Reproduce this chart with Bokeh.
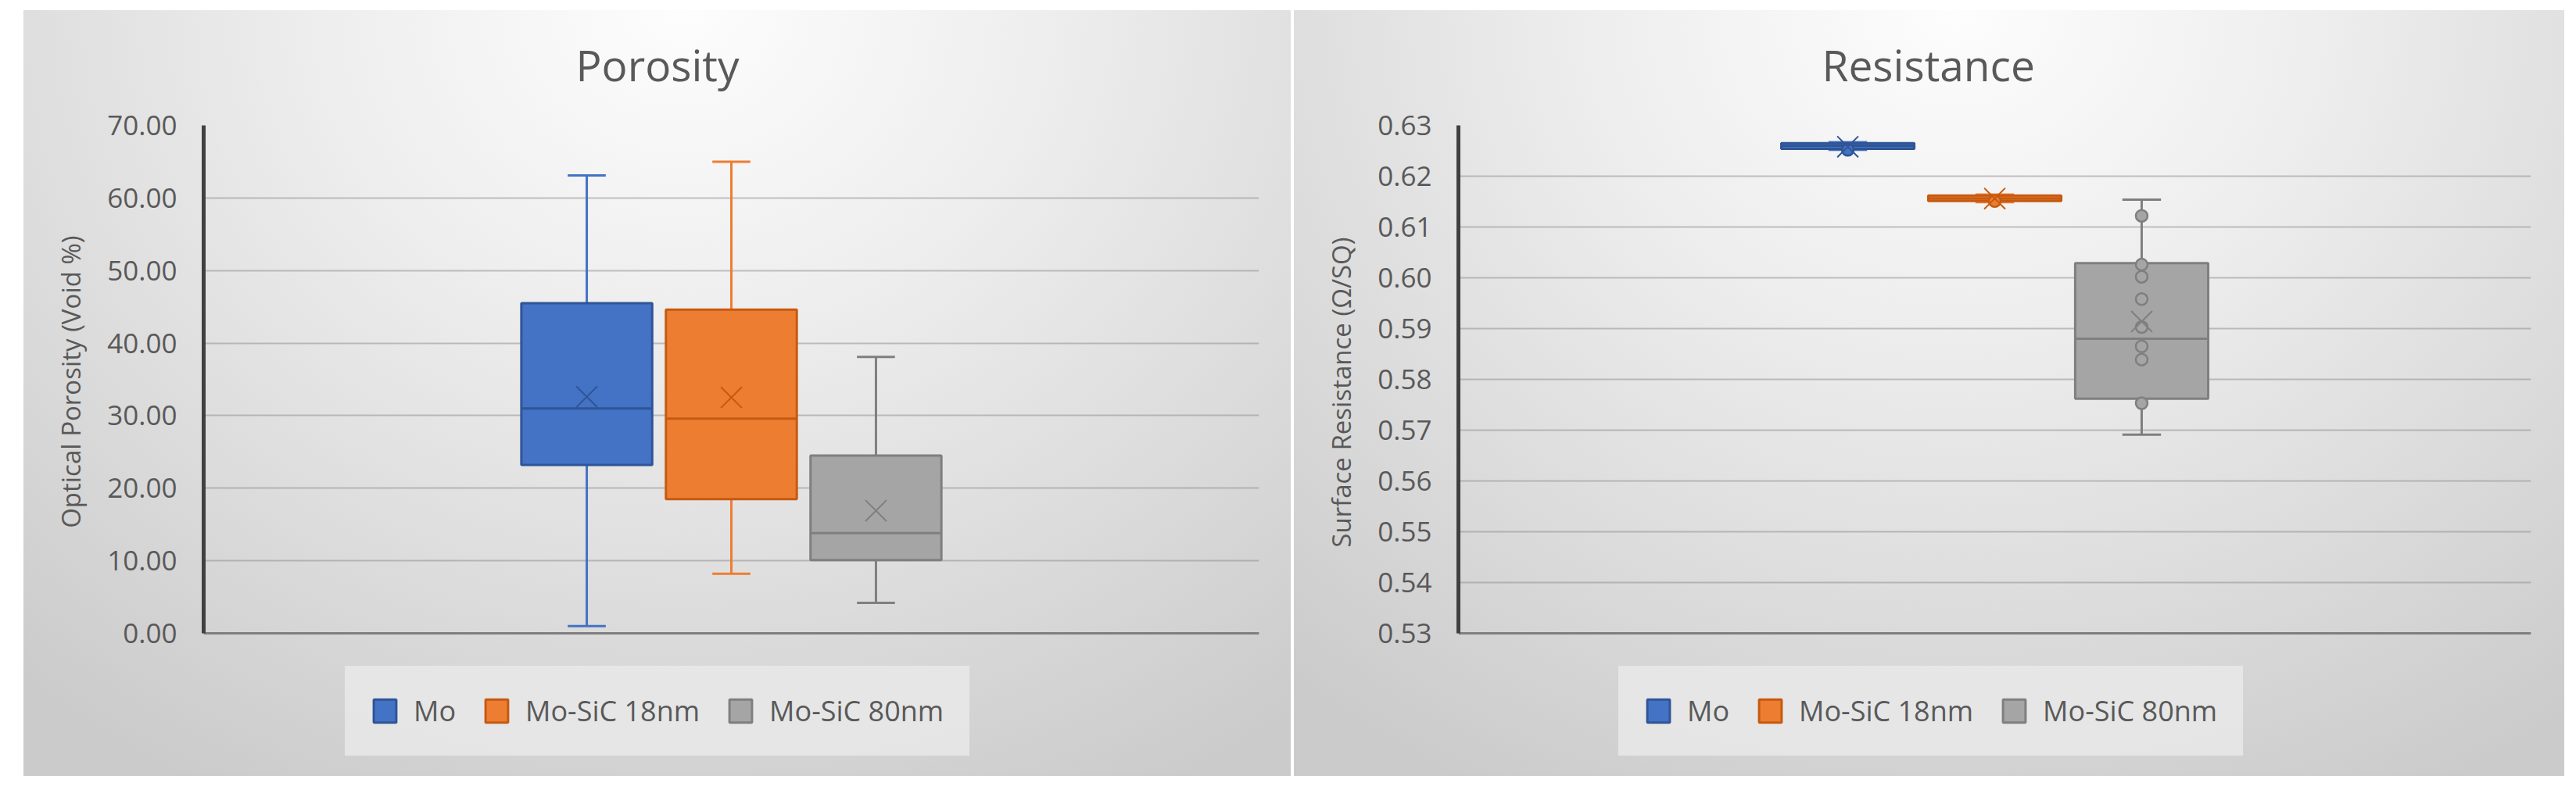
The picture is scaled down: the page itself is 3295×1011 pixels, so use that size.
from bokeh.plotting import figure
from bokeh.models import (Range1d, FixedTicker, NumeralTickFormatter, Legend, LegendItem,
                          ColumnDataSource, Spacer, Title)
from bokeh.layouts import row
from bokeh.embed import file_html
from bokeh.resources import INLINE

# ---------------- data ----------------
categories = ["Mo", "Mo-SiC 18nm", "Mo-SiC 80nm"]

por_min = [1.0, 8.2, 4.2]
por_q1 = [23.2, 18.5, 10.1]
por_median = [31.0, 29.6, 13.8]
por_q3 = [45.5, 44.6, 24.5]
por_max = [63.1, 65.0, 38.1]
por_mean = [32.6, 32.5, 16.9]
por_points = [[], [], []]

res_min = [0.6252, 0.6149, 0.5691]
res_q1 = [0.6254, 0.6151, 0.5762]
res_median = [0.6260, 0.6156, 0.5880]
res_q3 = [0.6265, 0.6162, 0.6029]
res_max = [0.6267, 0.6164, 0.6154]
res_mean = [0.6258, 0.6156, 0.5914]
res_points = [[0.6252], [0.6151],
              [0.6122, 0.6026, 0.6002, 0.5958, 0.5903, 0.5865, 0.5839, 0.5753]]

por_ticks = [0, 10, 20, 30, 40, 50, 60, 70]
res_ticks = [0.53, 0.54, 0.55, 0.56, 0.57, 0.58, 0.59, 0.60, 0.61, 0.62, 0.63]

# ---------------- style ----------------
FONT = "Open Sans"
TXT = "#595959"
fills = ["#4472C4", "#ED7D31", "#A5A5A5"]
outlines = ["#2F5597", "#C55A11", "#7F7F7F"]
whisk = ["#4472C4", "#ED7D31", "#7F7F7F"]
xpos = [0.5 - 0.137, 0.5, 0.5 + 0.137]
BOXW = 0.124
CAPW = 0.036
BG = ("linear-gradient(#ffffff, #ffffff) 0 0 / 100% 13px no-repeat, "
      "radial-gradient(ellipse 80% 115% at 52% 0%, #fdfdfd 0%, #eeeeee 35%, "
      "#dedede 65%, #cbcbcb 100%) 0 13px / 100% calc(100% - 13px) no-repeat")

FIG_H = 993
BORDER_TOP = 160
BORDER_BOTTOM = 20
AXIS_H = 650          # pixel height of the value axis (from its low to its high tick)


def make_panel(title, title_offset, ylabel, ylabel_offset, lo, hi, ticks, mins, q1s, meds,
               q3s, maxs, means, points, width, border_left, border_right, legend_x):
    frame_h = FIG_H - BORDER_TOP - BORDER_BOTTOM
    start = lo - (frame_h - AXIS_H) / AXIS_H * (hi - lo)   # room below the axis for the legend
    p = figure(width=width, height=FIG_H, output_backend="svg", toolbar_location=None,
               x_range=Range1d(0, 1), y_range=Range1d(start, hi),
               min_border_left=border_left, min_border_right=border_right,
               min_border_top=BORDER_TOP, min_border_bottom=BORDER_BOTTOM)
    p.styles = {"background": BG}
    p.border_fill_color = None
    p.background_fill_color = None
    p.outline_line_color = None

    p.title.text = title
    p.title.text_font = FONT
    p.title.text_font_size = "55px"
    p.title.text_font_style = "normal"
    p.title.text_color = TXT
    p.title.align = "left"
    p.title.offset = title_offset
    p.title.standoff = 81

    renderers = []
    for i in range(3):
        x = xpos[i]
        src = ColumnDataSource(dict(x=[x], lo=[mins[i]], q1=[q1s[i]], med=[meds[i]],
                                    q3=[q3s[i]], hi=[maxs[i]], mean=[means[i]],
                                    xl=[x - BOXW / 2], xr=[x + BOXW / 2],
                                    cl=[x - CAPW / 2], cr=[x + CAPW / 2]))
        p.segment(x0="x", y0="q3", x1="x", y1="hi", source=src, line_color=whisk[i], line_width=3)
        p.segment(x0="x", y0="q1", x1="x", y1="lo", source=src, line_color=whisk[i], line_width=3)
        p.segment(x0="cl", y0="hi", x1="cr", y1="hi", source=src, line_color=whisk[i], line_width=3)
        p.segment(x0="cl", y0="lo", x1="cr", y1="lo", source=src, line_color=whisk[i], line_width=3)
        r = p.vbar(x="x", width=BOXW, bottom="q1", top="q3", source=src,
                   fill_color=fills[i], line_color=outlines[i], line_width=3)
        renderers.append(r)
        p.segment(x0="xl", y0="med", x1="xr", y1="med", source=src,
                  line_color=outlines[i], line_width=3)
        if points[i]:
            psrc = ColumnDataSource(dict(x=[x] * len(points[i]), y=points[i]))
            p.scatter(x="x", y="y", source=psrc, marker="circle", size=15,
                      fill_color=fills[i], line_color=outlines[i], line_width=2.5)
        p.scatter(x="x", y="mean", source=src, marker="x", size=38,
                  line_color=outlines[i], line_width=2)

    # axes
    p.yaxis.bounds = (lo, hi)
    p.yaxis.ticker = FixedTicker(ticks=ticks)
    p.yaxis.formatter = NumeralTickFormatter(format="0.00")
    p.yaxis.axis_line_color = "#404040"
    p.yaxis.axis_line_width = 5
    p.yaxis.major_tick_line_color = None
    p.yaxis.minor_tick_line_color = None
    p.yaxis.major_label_text_font = FONT
    p.yaxis.major_label_text_font_size = "35px"
    p.yaxis.major_label_text_color = TXT
    p.yaxis.major_label_standoff = 28

    # value-axis title, placed beside the axis and centred on its 0..max span
    ytitle = Title(text=ylabel, align="right", offset=ylabel_offset, standoff=44,
                   text_font=FONT, text_font_size="33px", text_font_style="normal",
                   text_color=TXT)
    p.add_layout(ytitle, "left")

    p.xaxis.fixed_location = lo
    p.xaxis.ticker = FixedTicker(ticks=[])
    p.xaxis.axis_line_color = "#7F7F7F"
    p.xaxis.axis_line_width = 3
    p.xaxis.major_tick_line_color = None
    p.xaxis.minor_tick_line_color = None
    p.xaxis.major_label_text_font_size = "0px"

    p.xgrid.grid_line_color = None
    p.ygrid.grid_line_color = "#8C8C8C"
    p.ygrid.grid_line_alpha = 0.5
    p.ygrid.grid_line_width = 2

    legend = Legend(items=[LegendItem(label=c, renderers=[r]) for c, r in zip(categories, renderers)],
                    orientation="horizontal", location=(legend_x, 6),
                    label_text_font=FONT, label_text_font_size="36px", label_text_color=TXT,
                    glyph_width=36, glyph_height=37, label_standoff=19, spacing=34,
                    padding=33, margin=0, background_fill_color="#e9e9e9",
                    background_fill_alpha=0.85, border_line_color="#e9e9e9",
                    border_line_alpha=0.0)
    p.add_layout(legend, "center")
    return p


p1 = make_panel("Porosity", 476, "Optical Porosity (Void %)", 141, 0, 70, por_ticks,
                por_min, por_q1, por_median, por_q3, por_max, por_mean, por_points,
                1621, 230, 41, 181)
p2 = make_panel("Resistance", 465, "Surface Resistance (Ω/SQ)", 143, 0.53, 0.63, res_ticks,
                res_min, res_q1, res_median, res_q3, res_max, res_mean, res_points,
                1625, 210, 43, 205)

layout = row(Spacer(width=30), p1, Spacer(width=4), p2)

open("out.html", "w").write(file_html(layout, INLINE))
